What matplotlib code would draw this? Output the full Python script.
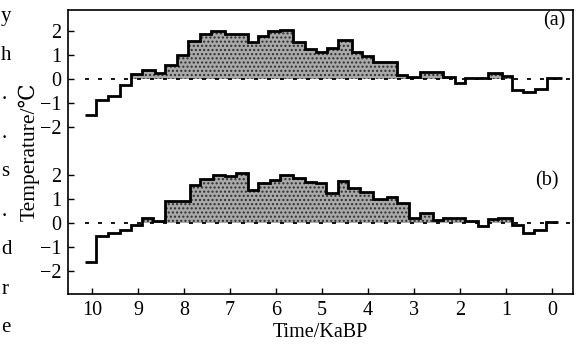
import numpy as np
import matplotlib.pyplot as plt

plt.rcParams['font.family'] = ['Liberation Serif', 'DejaVu Serif']
plt.rcParams['hatch.linewidth'] = 1.0

# step edges (KaBP, old -> young) and anomaly values for each series
edges_a = [10.15, 9.9, 9.65, 9.39, 9.15, 8.9, 8.63, 8.41, 8.16, 7.91,
           7.65, 7.40, 7.11, 6.86, 6.61, 6.39, 6.17, 5.9, 5.63, 5.37,
           5.13, 4.89, 4.65, 4.35, 4.13, 3.89, 3.6, 3.37, 3.15, 2.87,
           2.37, 2.11, 1.89, 1.39, 1.09, 0.87, 0.63, 0.37, 0.11, -0.22]
temp_a = [-1.5, -0.88, -0.7, -0.25, 0.2, 0.38, 0.26, 0.58, 1.0, 1.6,
          1.9, 2.0, 1.9, 1.88, 1.55, 1.8, 2.0, 2.05, 1.55, 1.25,
          1.14, 1.3, 1.65, 1.15, 0.95, 0.7, 0.7, 0.17, 0.07, 0.28,
          0.1, -0.18, 0.03, 0.24, 0.13, -0.46, -0.53, -0.39, 0.03]

edges_b = [10.15, 9.9, 9.65, 9.39, 9.15, 8.92, 8.67, 8.40, 7.87, 7.65,
           7.37, 7.11, 6.86, 6.61, 6.39, 6.13, 5.91, 5.63, 5.37, 5.13,
           4.9, 4.65, 4.43, 4.17, 3.89, 3.59, 3.37, 3.11, 2.87, 2.59,
           2.37, 1.89, 1.61, 1.39, 1.17, 0.87, 0.63, 0.39, 0.13, -0.13]
temp_b = [-1.61, -0.54, -0.4, -0.29, -0.08, 0.2, 0.08, 0.93, 1.6, 1.82,
          2.0, 1.95, 2.1, 1.38, 1.68, 1.8, 2.0, 1.86, 1.72, 1.68,
          1.24, 1.76, 1.45, 1.3, 1.0, 1.1, 0.82, 0.2, 0.4, 0.13,
          0.2, 0.1, -0.11, 0.15, 0.22, -0.08, -0.4, -0.29, 0.05]

ytick_vals = [-2, -1, 0, 1, 2]
xtick_vals = [10, 9, 8, 7, 6, 5, 4, 3, 2, 1, 0]
panel_names = ['(a)', '(b)']
# cut-off ends of the neighbouring body text
side_text = ['y', 'h', '.', '.', 's', '.', 'd', 'r', 'e']

offset_a = 6.0   # panel (a) sits above panel (b) in the same frame
offset_b = 0.0

fig = plt.figure(figsize=(5.78, 3.48), dpi=100)
ax = fig.add_axes([0.1176, 0.155, 0.8737, 0.816])


def draw_series(edges, temps, base):
    e = np.array(edges)[::-1]
    t = np.array(temps)[::-1]
    # stippled fill only where above zero
    ax.stairs(np.clip(t, 0, None) + base, e, baseline=base, fill=True,
              facecolor='#a9a9a9', edgecolor='#2e2e2e', hatch='....',
              linewidth=0, zorder=1)
    ax.hlines(base, 10.15, -0.42, colors='k', linewidth=1.3,
              linestyles=(0, (2.2, 5)), zorder=2)
    ax.stairs(t + base, e, baseline=None, color='k', linewidth=2.0, zorder=3)


draw_series(edges_a, temp_a, offset_a)
draw_series(edges_b, temp_b, offset_b)

ax.set_xlim(10.52, -0.46)
ax.set_ylim(-2.96, 8.88)

yt = [v + offset_a for v in ytick_vals] + [v + offset_b for v in ytick_vals]
ax.set_yticks(yt)
ax.set_yticklabels([('\u2212' + str(-v)) if v < 0 else str(v) for v in ytick_vals] * 2)
ax.set_xticks(xtick_vals)
ax.set_xticklabels([str(v) for v in xtick_vals])
ax.tick_params(direction='in', length=4, width=1, labelsize=14.5, pad=5)
for s in ax.spines.values():
    s.set_linewidth(1.2)

ax.set_xlabel('Time/KaBP', fontsize=14.5, labelpad=2)
ax.set_ylabel('Temperature/\u2103', fontsize=15.5, labelpad=0)

ax.text(0.962, 0.962, panel_names[0], transform=ax.transAxes,
        ha='center', va='center', fontsize=14.5)
ax.text(0.948, 0.40, panel_names[1], transform=ax.transAxes,
        ha='center', va='center', fontsize=14.5)

for i, s in enumerate(side_text):
    fig.text(0.002, 1 - (16 + 39 * i) / 348, s, ha='left', va='center',
             fontsize=15)

fig.savefig('out.png', dpi=100)
